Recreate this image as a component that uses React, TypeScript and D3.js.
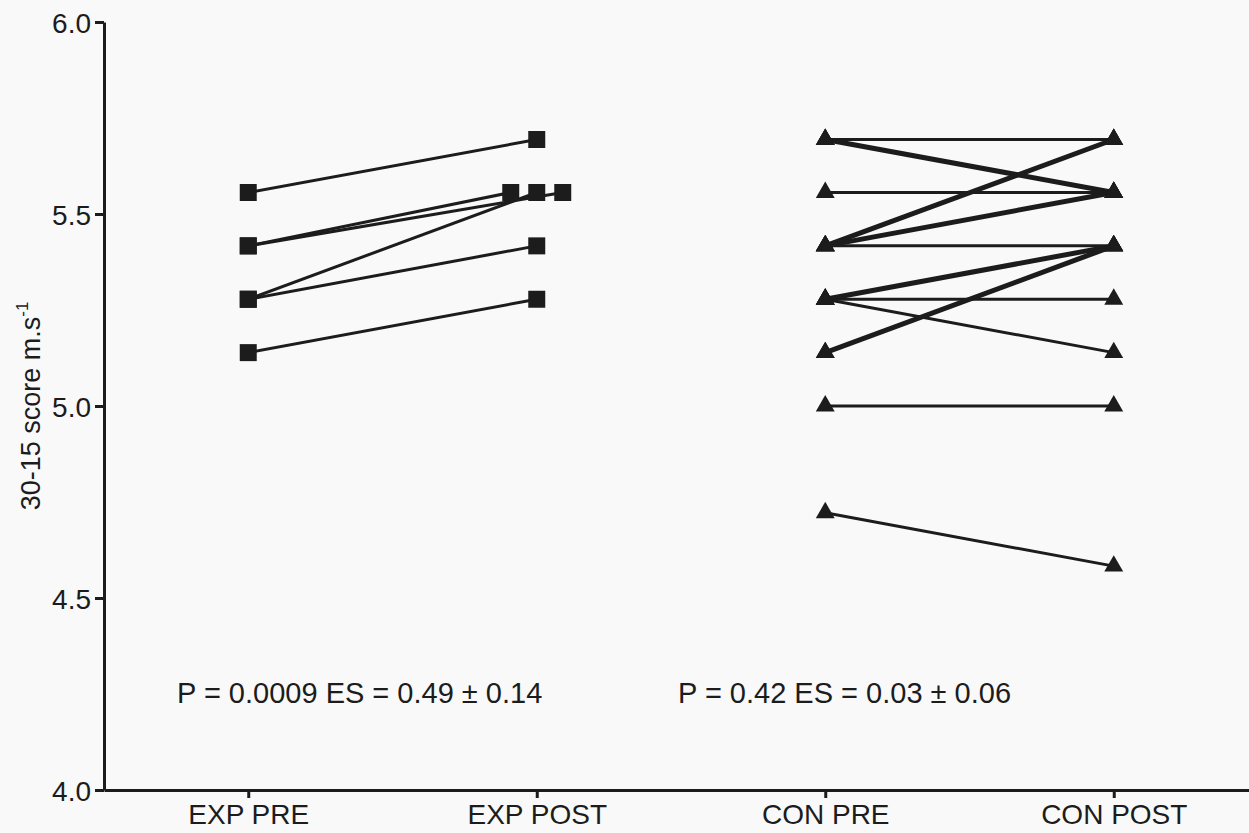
import * as d3 from "d3";
import { useEffect, useRef } from "react";

// 30-15 IFT final speed, m/s (km/h / 3.6)
const categories = ["EXP PRE", "EXP POST", "CON PRE", "CON POST"];

const expPre = [5.556, 5.417, 5.278, 5.417, 5.278, 5.139];
const expPost = [5.694, 5.556, 5.556, 5.556, 5.417, 5.278];

const conPre = [5.694, 5.694, 5.694, 5.556, 5.417, 5.417, 5.417, 5.417, 5.417, 5.278, 5.278, 5.278, 5.278, 5.139, 5.139, 5.0, 4.722];
const conPost = [5.694, 5.556, 5.556, 5.556, 5.694, 5.694, 5.556, 5.556, 5.417, 5.417, 5.417, 5.278, 5.139, 5.417, 5.417, 5.0, 4.583];

const yTicks = [4.0, 4.5, 5.0, 5.5, 6.0];
const statsText = ["P = 0.0009 ES = 0.49 \u00b1 0.14", "P = 0.42 ES = 0.03 \u00b1 0.06"];

const W = 1249;
const H = 833;
const margin = { top: 22, left: 104, bottom: 43, right: -9 };
const font = "'Liberation Sans', Arial, Helvetica, sans-serif";
const ink = "#1c1c1c";

export default function App() {
  const yAxisRef = useRef<SVGGElement>(null);
  const xAxisRef = useRef<SVGGElement>(null);

  const x = d3
    .scalePoint<string>()
    .domain(categories)
    .range([margin.left, W - margin.right])
    .padding(0.5);
  const y = d3.scaleLinear().domain([4, 6]).range([H - margin.bottom, margin.top]);

  useEffect(() => {
    const ya = d3.select(yAxisRef.current!);
    ya.call(
      d3.axisLeft(y).tickValues(yTicks).tickFormat(d3.format(".1f")).tickSize(9).tickSizeOuter(0).tickPadding(4)
    );
    ya.select(".domain").attr("stroke", ink).attr("stroke-width", 3);
    ya.selectAll(".tick line").attr("stroke", ink).attr("stroke-width", 3);
    ya.selectAll(".tick text").attr("fill", ink).attr("font-size", 28).attr("font-family", font).attr("dy", "0.36em");

    const xa = d3.select(xAxisRef.current!);
    xa.call(d3.axisBottom(x).tickSize(8).tickSizeOuter(0).tickPadding(6));
    xa.select(".domain").attr("stroke", ink).attr("stroke-width", 3);
    xa.selectAll(".tick line").attr("stroke", ink).attr("stroke-width", 3);
    xa.selectAll(".tick text").attr("fill", ink).attr("font-size", 28).attr("font-family", font).attr("dy", "0.72em");
  }, []);

  // spread identical values in the EXP POST column (as in the original plot)
  const jitterOf = (vals: number[]) => {
    const seen = new Map<number, number>();
    const totals = d3.rollup(vals, (v) => v.length, (d) => d);
    return vals.map((v) => {
      const n = totals.get(v)!;
      const i = seen.get(v) ?? 0;
      seen.set(v, i + 1);
      return n >= 3 ? (i - (n - 1) / 2) * 26 : 0;
    });
  };
  const expPostJitter = jitterOf(expPost);

  const expPairs = expPre.map((v, i) => ({
    x1: x("EXP PRE")!,
    y1: y(v),
    x2: x("EXP POST")! + expPostJitter[i],
    y2: y(expPost[i]),
    n: 1,
  }));

  const conCounts = d3.rollup(
    conPre.map((v, i) => [v, conPost[i]]),
    (v) => v.length,
    (d) => `${d[0]}-${d[1]}`
  );
  const conPairs = Array.from(conCounts, ([key, n]) => {
    const [a, b] = key.split("-").map(Number);
    return { x1: x("CON PRE")!, y1: y(a), x2: x("CON POST")!, y2: y(b), n };
  });

  const square = d3.symbol().type(d3.symbolSquare).size(289)()!;
  const triangle = d3.symbol().type(d3.symbolTriangle).size(155)()!;

  const expPts = [
    ...expPre.map((v) => ({ cx: x("EXP PRE")!, cy: y(v) })),
    ...expPost.map((v, i) => ({ cx: x("EXP POST")! + expPostJitter[i], cy: y(v) })),
  ];
  const conPts = [
    ...conPre.map((v) => ({ cx: x("CON PRE")!, cy: y(v) })),
    ...conPost.map((v) => ({ cx: x("CON POST")!, cy: y(v) })),
  ];

  return (
    <svg
      width={W}
      height={H}
      style={{ position: "absolute", left: 0, top: 0, background: "#f9f9f9" }}
    >
      <rect width={W} height={H} fill="#f9f9f9" />
      <g ref={yAxisRef} transform={`translate(${margin.left},0)`} />
      <g ref={xAxisRef} transform={`translate(0,${H - margin.bottom})`} />

      <text
        transform={`translate(40,${(y(4) + y(6)) / 2}) rotate(-90)`}
        textAnchor="middle"
        fontFamily={font}
        fontSize={27}
        fill={ink}
      >
        30-15 score m.s<tspan fontSize={17} dy={-12}>-1</tspan>
      </text>

      {[...expPairs, ...conPairs].map((p, i) => (
        <line
          key={i}
          x1={p.x1}
          y1={p.y1}
          x2={p.x2}
          y2={p.y2}
          stroke={ink}
          strokeWidth={p.n > 1 ? 5 : 3}
        />
      ))}

      {expPts.map((p, i) => (
        <path key={`s${i}`} d={square} transform={`translate(${p.cx},${p.cy})`} fill={ink} />
      ))}
      {conPts.map((p, i) => (
        <path key={`t${i}`} d={triangle} transform={`translate(${p.cx},${p.cy})`} fill={ink} />
      ))}

      <text x={177} y={703} fontFamily={font} fontSize={29} fill={ink}>
        {statsText[0]}
      </text>
      <text x={678} y={703} fontFamily={font} fontSize={29} fill={ink}>
        {statsText[1]}
      </text>
    </svg>
  );
}
